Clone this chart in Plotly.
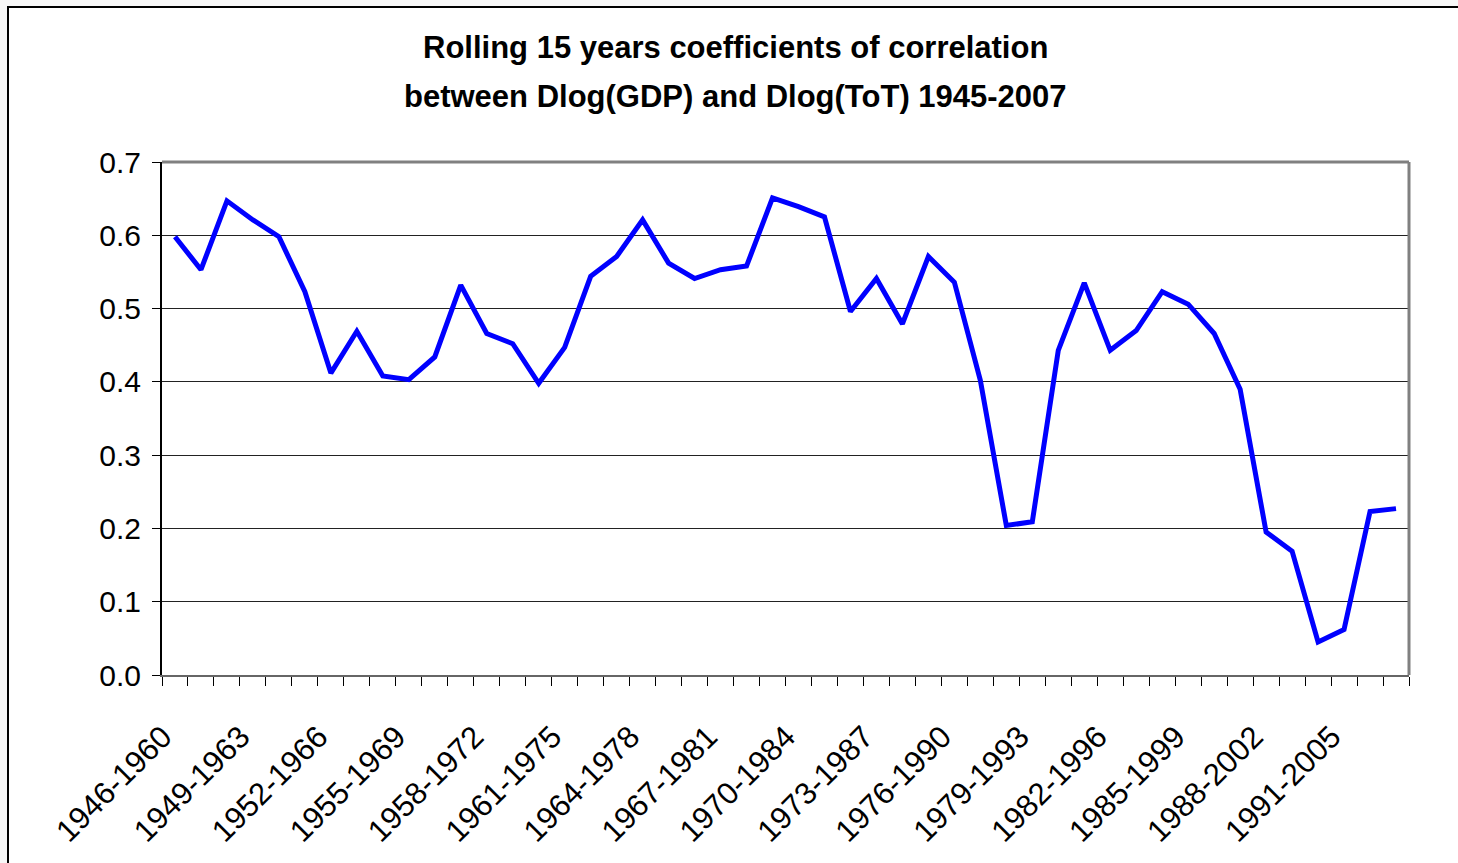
import plotly.graph_objects as go

start_years = list(range(1946, 1994))
categories = [f"{y}-{y + 14}" for y in start_years]
label_every = 3
tick_labels = [c + "\u00a0\u00a0" if i % label_every == 0 else "" for i, c in enumerate(categories)]

correlation = [
    0.598, 0.553, 0.647, 0.621, 0.598, 0.523, 0.412, 0.469, 0.408, 0.403,
    0.434, 0.532, 0.466, 0.452, 0.398, 0.447, 0.544, 0.571, 0.621, 0.562,
    0.541, 0.553, 0.558, 0.651, 0.639, 0.625, 0.496, 0.541, 0.479, 0.571,
    0.536, 0.402, 0.204, 0.209, 0.443, 0.535, 0.443, 0.470, 0.523, 0.506,
    0.466, 0.390, 0.195, 0.169, 0.045, 0.062, 0.223, 0.227,
]

title_lines = [
    "Rolling 15 years coefficients of correlation",
    "between Dlog(GDP) and Dlog(ToT) 1945-2007",
]

FONT = "Liberation Sans, Arial, sans-serif"

fig = go.Figure()
fig.add_trace(go.Scatter(
    x=categories, y=correlation, mode="lines",
    line=dict(color="#0000FF", width=5), showlegend=False,
))

W, H = 1458, 863
L, R, T, B = 162, 49, 162, 188
pw, ph = W - L - R, H - T - B

def px_x(p):
    return (p - L) / pw

def px_y(p):
    return (H - B - p) / ph

title_centers = [47, 97]
annotations = [
    dict(text=f"<b>{t}</b>", xref="paper", yref="paper",
         x=px_x(735), y=px_y(cy), xanchor="center", yanchor="middle",
         showarrow=False, font=dict(size=31, family=FONT, color="black"))
    for t, cy in zip(title_lines, title_centers)
]

fig.update_layout(
    width=W, height=H,
    margin=dict(l=L, r=R, t=T, b=B, autoexpand=False),
    paper_bgcolor="#f7f7f7",
    plot_bgcolor="white",
    font=dict(family=FONT, color="black"),
    annotations=annotations,
    shapes=[
        dict(type="rect", xref="paper", yref="paper", layer="below",
             x0=px_x(8), x1=px_x(1480), y0=px_y(7), y1=px_y(900),
             fillcolor="white", line=dict(color="black", width=2)),
        dict(type="line", xref="paper", yref="paper", layer="above",
             x0=1, x1=1, y0=0, y1=1, line=dict(color="#808080", width=3)),
        dict(type="line", xref="paper", yref="paper", layer="above",
             x0=0, x1=1, y0=1, y1=1, line=dict(color="#808080", width=3)),
    ],
)

fig.update_yaxes(
    range=[0, 0.7], dtick=0.1, tick0=0, tickformat=".1f",
    automargin=False,
    showgrid=True, gridcolor="#222222", gridwidth=1,
    zeroline=False,
    showline=True, linecolor="black", linewidth=2,
    ticks="outside", ticklen=8, tickcolor="black", tickwidth=1,
    ticklabelstandoff=5,
    tickfont=dict(size=30, family=FONT, color="black"),
)

fig.update_xaxes(
    type="category", tickmode="array", tickvals=categories, ticktext=tick_labels,
    range=[-0.5, len(categories) - 0.5],
    automargin=False,
    tickson="boundaries", ticks="outside", ticklen=9, tickcolor="black", tickwidth=1,
    tickangle=-45, showgrid=False, zeroline=False,
    showline=True, linecolor="#666666", linewidth=2,
    ticklabelstandoff=17,
    tickfont=dict(size=31, family=FONT, color="black"),
)

fig.write_html(
    "out.html",
    config={"displayModeBar": False},
    post_script="document.body.style.margin='0px';document.body.style.overflow='hidden';",
)
